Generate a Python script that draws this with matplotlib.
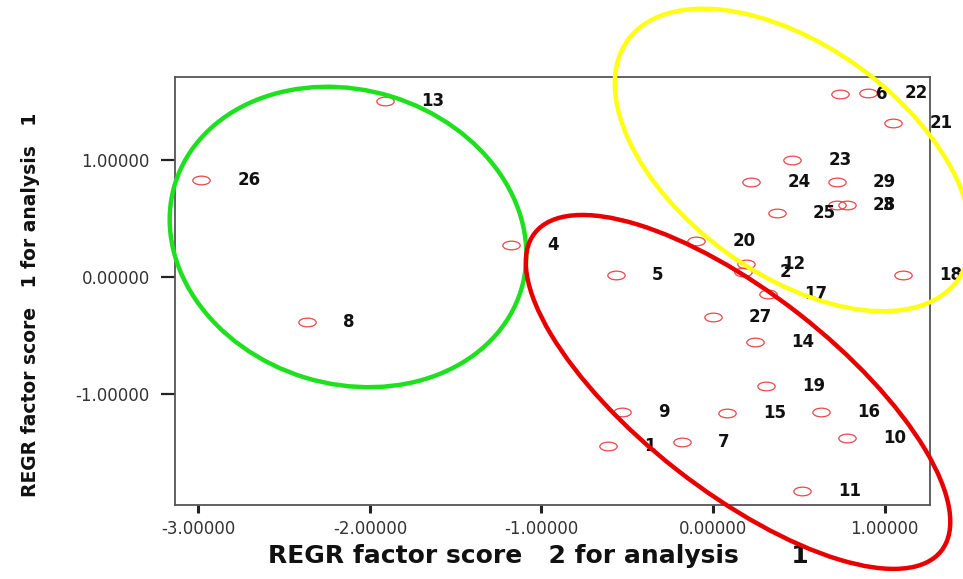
import numpy as np
import matplotlib
matplotlib.use("Agg")
import matplotlib.pyplot as plt
from matplotlib.patches import Ellipse
from matplotlib.path import Path
from matplotlib.transforms import Affine2D, ScaledTranslation

# case numbers and factor scores
case_ids = [1, 2, 3, 4, 5, 6, 7, 8, 9, 10, 11, 12, 13, 14, 15,
            16, 17, 18, 19, 20, 21, 22, 23, 24, 25, 26, 27, 28, 29]
score2 = [-0.612, 0.175, 0.781, -1.178, -0.566, 0.741, -0.181, -2.367, -0.531, 0.781,
          0.519, 0.192, -1.913, 0.245, 0.082, 0.630, 0.321, 1.108, 0.309, -0.099,
          1.050, 0.904, 0.461, 0.222, 0.373, -2.985, 0.000, 0.723, 0.723]
score1 = [-1.448, 0.043, 0.617, 0.274, 0.017, 1.568, -1.414, -0.386, -1.157, -1.380,
          -1.834, 0.111, 1.508, -0.557, -1.165, -1.157, -0.146, 0.017, -0.934, 0.310,
          1.320, 1.577, 1.000, 0.814, 0.548, 0.831, -0.343, 0.617, 0.814]

xticks = [-3.0, -2.0, -1.0, 0.0, 1.0]
yticks = [-1.0, 0.0, 1.0]

# hand drawn cluster rings: centre (data), width/height (inch), angle
ring_colors = ['#1ee01e', '#ffff14', '#e80000']
ring_centers = [(-2.128, 0.343), (0.466, 1.003), (0.146, -0.985)]
ring_sizes = [(3.62, 2.94), (4.08, 2.28), (5.16, 1.98)]
ring_angles = [-17, -36, -38]

fig = plt.figure(figsize=(9.63, 5.79), dpi=100)
ax = fig.add_axes([0.1817, 0.1278, 0.7840, 0.7392])

marker = Path.unit_circle().transformed(Affine2D().scale(1.0, 0.5))
ax.plot(score2, score1, linestyle='none', marker=marker, markersize=12.5,
        markerfacecolor='none', markeredgecolor='#e8474c', markeredgewidth=0.9)

for cid, sx, sy in zip(case_ids, score2, score1):
    ax.annotate(str(cid), (sx, sy), xytext=(26, 0), textcoords='offset points',
                ha='left', va='center', fontsize=12, fontweight='bold',
                family='DejaVu Sans', color='#111111', annotation_clip=False)

ax.set_xlim(-3.137, 1.265)
ax.set_ylim(-1.954, 1.714)
ax.set_xticks(xticks)
ax.set_yticks(yticks)
ax.set_xticklabels(['%.5f' % v for v in xticks])
ax.set_yticklabels(['%.5f' % v for v in yticks])
ax.tick_params(axis='x', direction='out', length=6, width=2.2, pad=5,
               labelsize=12, colors='#222222', labelcolor='#333333')
ax.tick_params(axis='y', direction='out', length=10, width=1.6, pad=8,
               labelsize=12, colors='#222222', labelcolor='#333333')
for sp in ax.spines.values():
    sp.set_color('#555555')
    sp.set_linewidth(1.3)

ax.set_xlabel('REGR factor score   2 for analysis      1', fontsize=18,
              fontweight='bold', family='DejaVu Sans', color='#111111')
ax.xaxis.label.set_va('center')
ax.xaxis.set_label_coords(0.481, -0.119)
ax.set_ylabel('REGR factor score   1 for analysis   1', fontsize=13.5,
              fontweight='bold', family='DejaVu Sans', color='#111111')
ax.yaxis.label.set_va('center')
ax.yaxis.set_label_coords(-0.192, 0.467)

for col, cen, size, ang in zip(ring_colors, ring_centers, ring_sizes, ring_angles):
    tr = fig.dpi_scale_trans + ScaledTranslation(cen[0], cen[1], ax.transData)
    ring = Ellipse((0, 0), size[0], size[1], angle=ang, transform=tr,
                   fill=False, edgecolor=col, linewidth=3.2, clip_on=False)
    fig.add_artist(ring)

fig.savefig('out.png', dpi=100)
